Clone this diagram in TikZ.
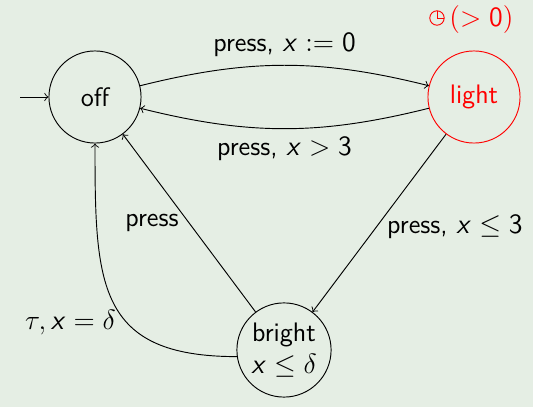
\documentclass[tikz,border=0pt]{standalone}
\usepackage{tikz}
\usetikzlibrary{positioning}
\DeclareMathAlphabet{\mathsfit}{OT1}{cmss}{m}{sl}
\definecolor{bgcol}{RGB}{229,238,228}

\begin{document}
\begin{tikzpicture}[x=0.43pt, y=-0.43pt, font=\sffamily\fontsize{11.5}{13.5}\selectfont,
    state/.style={circle, draw, minimum size=39.6pt, inner sep=0pt},
    edge/.style={->}]
    % Background
    \fill[bgcol] (0,0) rectangle (533,407);
    \useasboundingbox (0,0) rectangle (533,407);

    % States
    \node[state] (off) at (95,97) {off};
    \node[state, red] (light) at (474,97) {light};
    \node[state, align=center, minimum size=40.5pt] (bright) at (284,350) {bright\\[0pt]$\mathsfit{x}\leq\delta$};

    % Clock invariant on light
    \node[red, anchor=west, inner sep=0pt, font=\sffamily\fontsize{13}{15}\selectfont] (timer) at (449,20) {$(>\mathsf{0})$};
    \draw[red, thin] (437,18) circle (7.2);
    \draw[red, thin] (437,10.8) -- (437,18) -- (444.2,18);

    % Initial arrow
    \coordinate (start) at (20,97);
    \draw[edge] (start) -- (off);

    % Transitions
    \draw[edge] (off) to[bend left=14] node[above=0pt] {press, $\mathsfit{x}\mathrel{:=}\mathsf{0}$} (light);
    \draw[edge] (light) to[bend left=14] node[below=0pt] {press, $\mathsfit{x}>\mathsf{3}$} (off);
    \draw[edge] (light) -- node[right=1pt, pos=0.52] {press, $\mathsfit{x}\leq\mathsf{3}$} (bright);
    \draw[edge] (bright) -- node[left=1pt, pos=0.5] {press} (off);
    \draw[edge] (bright.188) to[out=180, in=-90, looseness=1.4] node[left=1pt, pos=0.4] {$\tau, \mathsfit{x}=\delta$} (off);
\end{tikzpicture}
\end{document}
